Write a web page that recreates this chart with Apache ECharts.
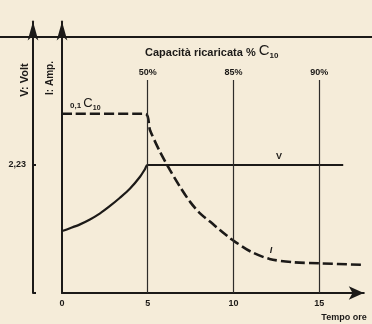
<!DOCTYPE html>
<html>
<head>
<meta charset="utf-8">
<script src="https://cdn.jsdelivr.net/npm/echarts@6/dist/echarts.min.js"></script>
<style>
  html, body { margin: 0; padding: 0; background: #f5ecd9; }
  #main { width: 372px; height: 324px; }
</style>
</head>
<body>
<div id="main"></div>
<script>
// tempo (ore) e valori, in unità arbitrarie della scala verticale
var vTime = [0, 0.47, 1.05, 1.63, 2.22, 2.8, 3.38, 3.97, 4.55, 4.84, 4.97, 5.2, 16.4];
var vValue = [2.42, 2.53, 2.68, 2.87, 3.11, 3.4, 3.72, 4.08, 4.54, 4.84, 5, 5, 5];
var iTime = [0, 4.85, 5.13, 5.71, 6.3, 6.88, 7.46, 8.05, 8.63, 9.21, 9.8, 10.1, 11, 12.1, 13.5, 15, 17.5];
var iValue = [7, 7, 6.37, 5.52, 4.8, 4.15, 3.57, 3.11, 2.79, 2.46, 2.14, 2.0, 1.62, 1.33, 1.2, 1.16, 1.1];
// capacità ricaricata
var capHours = [5, 10, 15];
var capLabels = ['50%', '85%', '90%'];
var capTop = 8.32;
// tick asse tempo
var timeTicks = [0, 5, 10, 15];
var voltTick = 5;
var voltTickLabel = '2,23';

var ink = '#1c1a18';
var font = 'Liberation Sans';

function pairs (xs, ys) {
  return xs.map(function (x, k) { return [x, ys[k]] })
}

var myChart = echarts.init(document.getElementById('main'))
var option = {
  backgroundColor: '#f5ecd9',
  animation: false,
  grid: { left: 62, right: 8.2, top: 21.6, bottom: 31, containLabel: false, outerBoundsMode: 'none' },
  xAxis: {
    type: 'value',
    min: 0,
    max: 17.6,
    interval: 5,
    axisLine: {
      lineStyle: { color: ink, width: 2 },
      symbol: ['none', 'arrow'],
      symbolSize: [10, 15]
    },
    axisTick: { show: false },
    splitLine: { show: false },
    axisLabel: {
      customValues: timeTicks,
      color: ink,
      fontFamily: font,
      fontWeight: 'bold',
      fontSize: 9,
      margin: 6
    }
  },
  yAxis: [
    {
      type: 'value',
      position: 'left',
      min: 0,
      max: 10.6,
      axisLine: {
        show: true,
        lineStyle: { color: ink, width: 2 },
        symbol: ['none', 'arrow'],
        symbolSize: [8, 19]
      },
      axisTick: { show: false },
      axisLabel: { show: false },
      splitLine: { show: false }
    },
    {
      type: 'value',
      position: 'left',
      offset: 29,
      min: 0,
      max: 10.6,
      axisLine: {
        show: true,
        onZero: false,
        lineStyle: { color: ink, width: 2 },
        symbol: ['none', 'arrow'],
        symbolSize: [8, 19]
      },
      axisTick: { show: true, customValues: [voltTick], inside: true, length: 3, lineStyle: { color: ink, width: 2 } },
      axisLabel: {
        customValues: [voltTick],
        formatter: function () { return voltTickLabel },
        color: ink,
        fontFamily: font,
        fontWeight: 'bold',
        fontSize: 9,
        margin: 7
      },
      splitLine: { show: false }
    }
  ],
  series: [
    {
      name: 'V',
      type: 'line',
      data: pairs(vTime, vValue),
      smooth: 0.3,
      symbol: 'none',
      lineStyle: { color: ink, width: 2.2 },
      markLine: {
        silent: true,
        symbol: ['none', 'none'],
        lineStyle: { color: '#2e2c2a', width: 1.2, type: 'solid' },
        label: {
          position: 'end',
          distance: 3,
          color: ink,
          fontFamily: font,
          fontWeight: 'bold',
          fontSize: 9
        },
        data: capHours.map(function (h, k) {
          return [
            { coord: [h, 0] },
            { coord: [h, capTop], label: { formatter: capLabels[k] } }
          ]
        })
      }
    },
    {
      name: 'I',
      type: 'line',
      data: pairs(iTime, iValue),
      smooth: 0.3,
      symbol: 'none',
      lineStyle: { color: ink, width: 2.6, type: [10, 4] }
    }
  ],
  graphic: [
    { type: 'line', shape: { x1: 0, y1: 37, x2: 372, y2: 37 }, style: { stroke: ink, lineWidth: 2 } },
    { type: 'line', shape: { x1: 33, y1: 293, x2: 36, y2: 293 }, style: { stroke: ink, lineWidth: 2 } },
    {
      type: 'text', x: 25, y: 80, rotation: Math.PI / 2,
      style: { text: 'V: Volt', fill: ink, font: 'bold 11px "Liberation Sans"', align: 'center', verticalAlign: 'middle' }
    },
    {
      type: 'text', x: 50, y: 78, rotation: Math.PI / 2,
      style: { text: 'I: Amp.', fill: ink, font: 'bold 10px "Liberation Sans"', align: 'center', verticalAlign: 'middle' }
    },
    {
      type: 'text', x: 70, y: 110,
      style: {
        text: '{s|0,1 }{c|C}{sub|10}',
        align: 'left', verticalAlign: 'bottom',
        rich: {
          s: { fill: ink, font: 'bold 8px "Liberation Sans"', verticalAlign: 'bottom' },
          c: { fill: ink, font: '13px "Liberation Sans"', verticalAlign: 'bottom' },
          sub: { fill: ink, font: 'bold 7px "Liberation Sans"', verticalAlign: 'bottom', padding: [0, 0, -2, 0] }
        }
      }
    },
    {
      type: 'text', x: 145, y: 58,
      style: {
        text: '{s|Capacità ricaricata % }{c|C}{sub|10}',
        align: 'left', verticalAlign: 'bottom',
        rich: {
          s: { fill: ink, font: 'bold 11px "Liberation Sans"', verticalAlign: 'bottom' },
          c: { fill: ink, font: '15px "Liberation Sans"', verticalAlign: 'bottom' },
          sub: { fill: ink, font: 'bold 8px "Liberation Sans"', verticalAlign: 'bottom', padding: [0, 0, -2, 0] }
        }
      }
    },
    {
      type: 'text', x: 279, y: 157,
      style: { text: 'V', fill: ink, font: 'bold 9px "Liberation Sans"', align: 'center', verticalAlign: 'middle' }
    },
    {
      type: 'text', x: 271, y: 251,
      style: { text: 'I', fill: ink, font: 'italic bold 9px "Liberation Sans"', align: 'center', verticalAlign: 'middle' }
    },
    {
      type: 'text', x: 344, y: 318,
      style: { text: 'Tempo ore', fill: ink, font: 'bold 9px "Liberation Sans"', align: 'center', verticalAlign: 'middle' }
    }
  ]
}
myChart.setOption(option)
</script>
</body>
</html>
